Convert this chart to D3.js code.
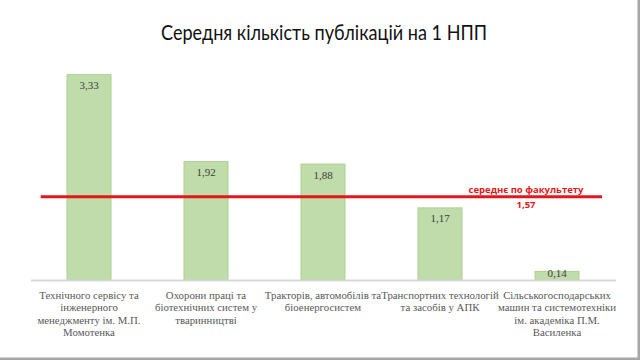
<!DOCTYPE html>
<html><head><meta charset="utf-8">
<script src="https://cdn.jsdelivr.net/npm/d3@7/dist/d3.min.js"></script>
<style>html,body{margin:0;padding:0;background:#fff;}svg{display:block;}</style>
</head><body>
<svg id="chart" width="640" height="360"></svg>
<script>
const title = "Середня кількість публікацій на 1 НПП";
const categories = [
  ["Технічного сервісу та", "інженерного", "менеджменту ім. М.П.", "Момотенка"],
  ["Охорони праці та", "біотехнічних систем у", "тваринництві"],
  ["Тракторів, автомобілів та", "біоенергосистем"],
  ["Транспортних технологій", "та засобів у АПК"],
  ["Сільськогосподарських", "машин та системотехніки", "ім. академіка П.М.", "Василенка"]
];
const values = [3.33, 1.92, 1.88, 1.17, 0.14];
const valueLabels = ["3,33", "1,92", "1,88", "1,17", "0,14"];
const avgLabel = "середнє по факультету";
const avgValueLabel = "1,57";
const avgLineLevel = 1.35; // level at which the line is drawn in the picture

const svg = d3.select("#chart");
const W = 640, H = 360;
const base = 280, topY = 74.7;
const serif = "'Liberation Serif', 'Times New Roman', Times, serif";

// frame edges
svg.append("rect").attr("x", 637.5).attr("y", 0).attr("width", 2.5).attr("height", H).attr("fill", "#a6a6a6");
svg.append("rect").attr("x", 0).attr("y", 357.5).attr("width", W).attr("height", 2.5).attr("fill", "#a6a6a6");

svg.append("text").attr("x", 324).attr("y", 40).attr("text-anchor", "middle")
  .attr("font-family", "Lato, 'Open Sans', sans-serif").attr("font-size", 21)
  .attr("fill", "#111").attr("textLength", 326).attr("lengthAdjust", "spacingAndGlyphs")
  .text(title);

const x = d3.scaleBand().domain(d3.range(values.length)).range([30.5, 615.5])
  .paddingInner(0.624).paddingOuter(0.312);
const y = d3.scaleLinear().domain([0, 3.33]).range([base, topY]);

const g = svg.append("g");
g.selectAll("rect.bar").data(values).join("rect").attr("class", "bar")
  .attr("x", (d, i) => x(i)).attr("width", x.bandwidth())
  .attr("y", d => y(d)).attr("height", d => base - y(d))
  .attr("fill", "#c0dcab").attr("stroke", "#a9d18e").attr("stroke-width", 1);

// axis baseline
const xAxis = d3.axisBottom(x).tickSize(0).tickFormat("");
const ax = svg.append("g").attr("transform", `translate(0,${base})`).call(xAxis);
ax.select(".domain").attr("stroke", "#d9d9d9").attr("stroke-width", 2);

// value labels
g.selectAll("text.val").data(values).join("text").attr("class", "val")
  .attr("x", (d, i) => x(i) + x.bandwidth() / 2)
  .attr("y", d => Math.min(y(d) + 14.5, base - 3))
  .attr("text-anchor", "middle")
  .attr("font-family", serif).attr("font-size", 11)
  .attr("fill", "#404040")
  .text((d, i) => valueLabels[i]);

// category labels
const lab = svg.selectAll("text.cat").data(categories).join("text").attr("class", "cat")
  .attr("x", (d, i) => x(i) + x.bandwidth() / 2)
  .attr("y", 299)
  .attr("text-anchor", "middle")
  .attr("font-family", serif).attr("font-size", 10.8)
  .attr("fill", "#595959");
lab.selectAll("tspan").data(d => d).join("tspan")
  .attr("x", function () { return this.parentNode.getAttribute("x"); })
  .attr("dy", (d, i) => i === 0 ? 0 : 12.3)
  .text(d => d);

// average line
svg.append("line").attr("x1", 40.7).attr("x2", 602)
  .attr("y1", y(avgLineLevel)).attr("y2", y(avgLineLevel))
  .attr("stroke", "#e3171b").attr("stroke-width", 3);
svg.append("text").attr("x", 526).attr("y", y(avgLineLevel) - 4).attr("text-anchor", "middle")
  .attr("font-family", "'Open Sans', sans-serif").attr("font-weight", "bold").attr("font-size", 9.5)
  .attr("fill", "#e3171b").text(avgLabel);
svg.append("text").attr("x", 526).attr("y", y(avgLineLevel) + 11.5).attr("text-anchor", "middle")
  .attr("font-family", "'Open Sans', sans-serif").attr("font-weight", "bold").attr("font-size", 9.5)
  .attr("fill", "#e3171b").text(avgValueLabel);
</script>
</body></html>
